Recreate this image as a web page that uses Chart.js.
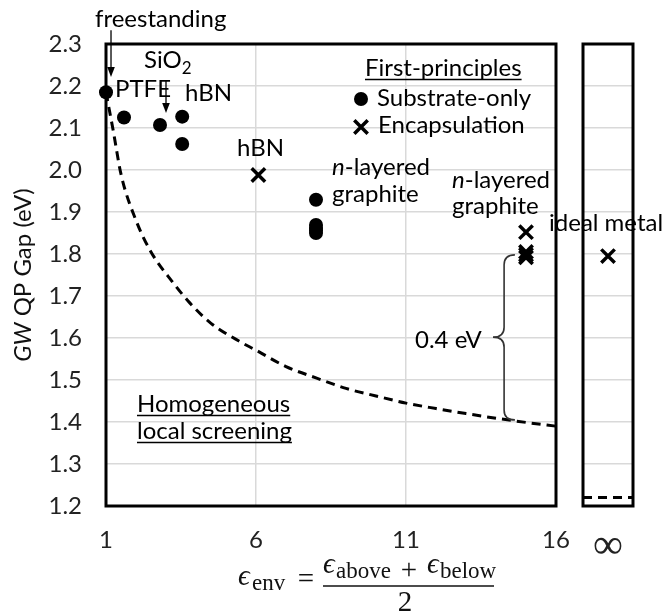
<!DOCTYPE html>
<html><head><meta charset="utf-8">
<script src="https://cdn.jsdelivr.net/npm/chart.js@4.4.0/dist/chart.umd.min.js"></script>
<style>
html,body{margin:0;padding:0;background:#fff;}
#wrap{position:relative;width:668px;height:614px;}
canvas{position:absolute;left:0;top:0;}
</style></head><body>
<div id="wrap"><canvas id="main" width="668" height="614"></canvas><canvas id="inf" width="668" height="614"></canvas></div>
<script>
// ---------------- data ----------------
const xTickValues = [1, 6, 11, 16];
const yTickValues = [1.2, 1.3, 1.4, 1.5, 1.6, 1.7, 1.8, 1.9, 2.0, 2.1, 2.2, 2.3];
// first-principles, substrate only
const substrateX = [1, 1.6, 2.8, 3.54, 3.54, 8, 8, 8, 8, 8];
const substrateY = [2.185, 2.125, 2.107, 2.127, 2.062, 1.929, 1.869, 1.862, 1.856, 1.850];
// first-principles, encapsulation
const encapX = [6.08, 15, 15, 15, 15];
const encapY = [1.988, 1.852, 1.805, 1.798, 1.792];
// homogeneous local screening (dashed curve)
const screeningX = [1, 1.25, 1.5, 2, 2.5, 3.2, 3.8, 4.5, 5.5, 6, 7, 8, 9, 10, 11, 12, 13, 14, 15, 16];
const screeningY = [2.185, 2.09, 1.99, 1.88, 1.805, 1.735, 1.683, 1.635, 1.59, 1.571, 1.532, 1.505, 1.48, 1.462, 1.445, 1.432, 1.42, 1.409, 1.399, 1.39];
// infinity panel (ideal metal)
const infCategories = ['', '\u221E', ''];
const infEncapY = [null, 1.795, null];
const infScreeningY = [1.22, 1.22, 1.22];

// ---------------- style ----------------
const FONT = 'Lato';
const TXT = 24;
const GRID = '#d9d9d9';
Chart.defaults.font.family = FONT;
Chart.defaults.font.size = TXT;

// annotations in data coordinates (left x, baseline y)
const notes = [
  {x: 0.633, y: 2.3405, runs: [{t: 'freestanding'}]},
  {x: 1.30, y: 2.1738, runs: [{t: 'PTFE'}]},
  {x: 2.267, y: 2.2429, runs: [{t: 'SiO'}, {t: '2', s: 17, dy: 6}]},
  {x: 3.633, y: 2.1643, runs: [{t: 'hBN'}]},
  {x: 5.367, y: 2.0333, runs: [{t: 'hBN'}]},
  {x: 9.633, y: 2.2238, runs: [{t: 'First-principles'}], u: true},
  {x: 10.033, y: 2.1524, runs: [{t: 'Substrate-only'}]},
  {x: 10.067, y: 2.0881, runs: [{t: 'Encapsulation'}]},
  {x: 8.533, y: 1.9881, runs: [{t: 'n', i: true}, {t: '-layered'}]},
  {x: 8.533, y: 1.9238, runs: [{t: 'graphite'}]},
  {x: 12.533, y: 1.9571, runs: [{t: 'n', i: true}, {t: '-layered'}]},
  {x: 12.533, y: 1.8952, runs: [{t: 'graphite'}]},
  {x: 15.767, y: 1.8548, runs: [{t: 'ideal metal'}]},
  {x: 11.3, y: 1.5762, runs: [{t: '0.4 eV'}]},
  {x: 2.033, y: 1.4238, runs: [{t: 'Homogeneous'}], u: true},
  {x: 2.033, y: 1.3595, runs: [{t: 'local screening'}], u: true}
];
const arrows = [
  {x: 1.167, y1: 2.333, y2: 2.2214},
  {x: 3.0, y1: 2.2143, y2: 2.1357}
];
const brace = {xEnd: 14.63, xV: 14.27, xTip: 13.9, yTop: 1.798, yMid: 1.602, yBot: 1.405};
const legendItems = [
  {x: 9.5, y: 2.169, style: 'circle', r: 7},
  {x: 9.5, y: 2.1024, style: 'crossRot', r: 9.5}
];

function drawRuns(ctx, x, y, runs) {
  let cx = x;
  for (const r of runs) {
    ctx.font = (r.i ? 'italic ' : '') + (r.s || TXT) + 'px ' + FONT;
    ctx.fillText(r.t, cx, y + (r.dy || 0));
    cx += ctx.measureText(r.t).width;
  }
  return cx - x;
}

const framePlugin = {
  id: 'frame',
  beforeDatasetsDraw(chart) {
    const {ctx, chartArea: a} = chart;
    ctx.save();
    ctx.lineWidth = 3;
    ctx.strokeStyle = '#000';
    ctx.strokeRect(a.left, a.top, a.right - a.left, a.bottom - a.top);
    ctx.restore();
  }
};

const annotPlugin = {
  id: 'annot',
  afterDatasetsDraw(chart) {
    const {ctx} = chart;
    const sx = chart.scales.x, sy = chart.scales.y;
    const px = v => sx.getPixelForValue(v), py = v => sy.getPixelForValue(v);
    ctx.save();
    ctx.fillStyle = '#000';
    ctx.textAlign = 'left';
    ctx.textBaseline = 'alphabetic';
    for (const n of notes) {
      const x = px(n.x), y = py(n.y);
      const w = drawRuns(ctx, x, y, n.runs);
      if (n.u) {
        ctx.beginPath();
        ctx.lineWidth = 1.5;
        ctx.strokeStyle = '#000';
        ctx.moveTo(x, y + 3.5); ctx.lineTo(x + w, y + 3.5);
        ctx.stroke();
      }
    }
    // arrows
    for (const a of arrows) {
      const x = px(a.x), y1 = py(a.y1), y2 = py(a.y2);
      ctx.beginPath();
      ctx.lineWidth = 1.3; ctx.strokeStyle = '#000';
      ctx.moveTo(x, y1); ctx.lineTo(x, y2 - 8); ctx.stroke();
      ctx.beginPath();
      ctx.moveTo(x - 3.8, y2 - 10); ctx.lineTo(x + 3.8, y2 - 10); ctx.lineTo(x, y2); ctx.closePath();
      ctx.fill();
    }
    // brace
    {
      const xe = px(brace.xEnd), xv = px(brace.xV), xt = px(brace.xTip);
      const yt = py(brace.yTop), ym = py(brace.yMid), yb = py(brace.yBot);
      const r = 10;
      ctx.beginPath();
      ctx.lineWidth = 1.6; ctx.strokeStyle = '#333';
      ctx.moveTo(xe, yt);
      ctx.quadraticCurveTo(xv, yt, xv, yt + r);
      ctx.lineTo(xv, ym - r);
      ctx.quadraticCurveTo(xv, ym, xt, ym);
      ctx.quadraticCurveTo(xv, ym, xv, ym + r);
      ctx.lineTo(xv, yb - r);
      ctx.quadraticCurveTo(xv, yb, xe, yb);
      ctx.stroke();
    }
    // legend markers
    for (const l of legendItems) {
      ctx.fillStyle = '#000'; ctx.strokeStyle = '#000'; ctx.lineWidth = 3.5;
      Chart.helpers.drawPoint(ctx, {pointStyle: l.style, radius: l.r, rotation: 0, borderWidth: l.style === 'circle' ? 0 : 3.5}, px(l.x), py(l.y));
    }
    ctx.restore();
  },
  afterDraw(chart) {
    const {ctx, chartArea: a} = chart;
    ctx.save();
    ctx.fillStyle = '#111';
    // y-axis title
    ctx.translate(31, (a.top + a.bottom) / 2);
    ctx.rotate(-Math.PI / 2);
    const runs = [{t: 'GW', i: true}, {t: ' QP Gap (eV)'}];
    let total = 0;
    for (const r of runs) { ctx.font = (r.i ? 'italic ' : '') + TXT + 'px ' + FONT; total += ctx.measureText(r.t).width; }
    ctx.textBaseline = 'alphabetic';
    drawRuns(ctx, -total / 2, 0, runs);
    ctx.restore();

    // x-axis title formula
    ctx.save();
    ctx.fillStyle = '#111';
    const SER = "'Liberation Serif','DejaVu Serif',serif";
    const M = 29, S = 23;
    ctx.textBaseline = 'alphabetic';
    ctx.textAlign = 'left';
    ctx.font = 'italic ' + M + 'px ' + SER; ctx.fillText('\u03F5', 238, 585);
    ctx.font = S + 'px ' + SER; ctx.fillText('env', 252, 590);
    ctx.textAlign = 'center';
    ctx.font = M + 'px ' + SER; ctx.fillText('=', 306, 588);
    ctx.textAlign = 'left';
    ctx.font = 'italic ' + M + 'px ' + SER; ctx.fillText('\u03F5', 323, 573);
    ctx.font = S + 'px ' + SER; ctx.fillText('above', 336, 578);
    ctx.textAlign = 'center';
    ctx.font = M + 'px ' + SER; ctx.fillText('+', 409, 579);
    ctx.textAlign = 'left';
    ctx.font = 'italic ' + M + 'px ' + SER; ctx.fillText('\u03F5', 427, 573);
    ctx.font = S + 'px ' + SER; ctx.fillText('below', 440, 578);
    ctx.beginPath(); ctx.lineWidth = 1.3; ctx.strokeStyle = '#111';
    ctx.moveTo(323, 586); ctx.lineTo(494, 586); ctx.stroke();
    ctx.textAlign = 'center';
    ctx.font = M + 'px ' + SER; ctx.fillText('2', 405, 611);
    ctx.restore();
  }
};

new Chart(document.getElementById('main'), {
  type: 'scatter',
  data: {
    datasets: [
      {label: 'Substrate-only', data: substrateX.map((x, i) => ({x, y: substrateY[i]})),
       pointStyle: 'circle', pointRadius: 7, backgroundColor: '#000', borderColor: '#000', borderWidth: 0, clip: false},
      {label: 'Encapsulation', data: encapX.map((x, i) => ({x, y: encapY[i]})),
       pointStyle: 'crossRot', pointRadius: 9.5, backgroundColor: '#000', borderColor: '#000', borderWidth: 3.5, clip: false},
      {label: 'Homogeneous local screening', data: screeningX.map((x, i) => ({x, y: screeningY[i]})),
       showLine: true, borderColor: '#000', borderWidth: 3, borderDash: [9, 6], pointRadius: 0,
       cubicInterpolationMode: 'monotone', fill: false}
    ]
  },
  options: {
    responsive: false, animation: false, events: [],
    layout: {padding: {top: 44, right: 112, bottom: 0, left: 0}},
    plugins: {legend: {display: false}, tooltip: {enabled: false}},
    scales: {
      x: {type: 'linear', min: 1, max: 16,
          afterBuildTicks: s => { s.ticks = xTickValues.map(v => ({value: v})); },
          afterFit: s => { s.height = 108; },
          grid: {color: GRID, lineWidth: 1.5, drawTicks: false},
          border: {display: false},
          ticks: {padding: 20, color: '#222', font: {size: TXT}, callback: v => String(v)}},
      y: {min: 1.2, max: 2.3,
          afterBuildTicks: s => { s.ticks = yTickValues.map(v => ({value: v})); },
          afterFit: s => { s.width = 106; },
          grid: {color: GRID, lineWidth: 1.5, drawTicks: false},
          border: {display: false},
          ticks: {padding: 24, color: '#222', font: {size: TXT}, callback: v => Number(v).toFixed(1)}}
    }
  },
  plugins: [framePlugin, annotPlugin]
});

new Chart(document.getElementById('inf'), {
  type: 'line',
  data: {
    labels: infCategories,
    datasets: [
      {label: 'Encapsulation', data: infEncapY, showLine: false, pointStyle: 'crossRot', pointRadius: 9.5,
       borderColor: '#000', backgroundColor: '#000', borderWidth: 3.5, clip: false},
      {label: 'Homogeneous local screening', data: infScreeningY, borderColor: '#000', borderWidth: 3,
       borderDash: [9, 6], pointRadius: 0, fill: false}
    ]
  },
  options: {
    responsive: false, animation: false, events: [],
    layout: {padding: {top: 44, right: 35, bottom: 0, left: 583}},
    plugins: {legend: {display: false}, tooltip: {enabled: false}},
    scales: {
      x: {offset: false, grid: {display: false}, border: {display: false},
          afterFit: s => { s.height = 108; },
          ticks: {autoSkip: false, maxRotation: 0, padding: 8, color: '#222',
                  font: {family: "'Liberation Serif','DejaVu Serif',serif", size: 42}}},
      y: {min: 1.2, max: 2.3,
          afterBuildTicks: s => { s.ticks = yTickValues.map(v => ({value: v})); },
          afterFit: s => { s.width = 0; },
          grid: {color: GRID, lineWidth: 1.5, drawTicks: false},
          border: {display: false},
          ticks: {display: false}}
    }
  },
  plugins: [framePlugin]
});
</script>
</body></html>
